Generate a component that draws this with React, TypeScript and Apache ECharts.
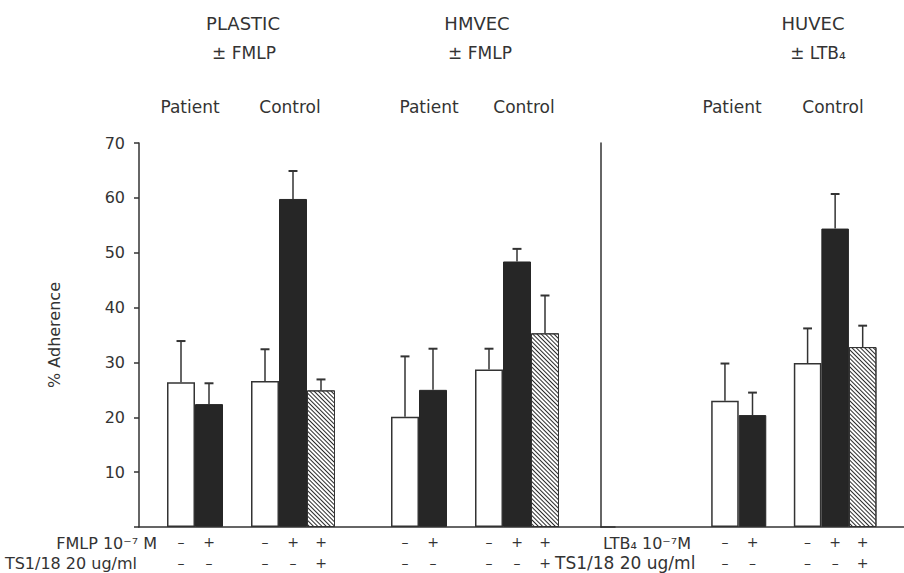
import React, { useEffect, useRef } from 'react';
import * as echarts from 'echarts';

const FONT = '"DejaVu Sans", "Liberation Sans", sans-serif';
const INK = '#333333';
const SOLID = '#262626';

// ---- PLASTIC + HMVEC panel: 17 category slots ('' = gap) ----
const leftLabels = ['', '–\n–', '+\n–', '', '–\n–', '+\n–', '+\n+', '', '', '–\n–', '+\n–', '', '–\n–', '+\n–', '+\n+', '', ''];
const leftOpen = [null, 26.4, null, null, 26.6, null, null, null, null, 20.1, null, null, 28.7, null, null, null, null];
const leftSolid = [null, null, 22.4, null, null, 59.8, null, null, null, null, 25.0, null, null, 48.4, null, null, null];
const leftHatched = [null, null, null, null, null, null, 24.9, null, null, null, null, null, null, null, 35.3, null, null];
const leftSem = [null, 7.5, 3.8, null, 5.8, 5.1, 2.0, null, null, 11.0, 7.5, null, 3.8, 2.3, 6.9, null, null];

// ---- HUVEC panel: 11 category slots ----
const rightLabels = ['', '', '', '', '–\n–', '+\n–', '', '–\n–', '+\n–', '+\n+', ''];
const rightOpen = [null, null, null, null, 23.0, null, null, 29.9, null, null, null];
const rightSolid = [null, null, null, null, null, 20.4, null, null, 54.4, null, null];
const rightHatched = [null, null, null, null, null, null, null, null, null, 32.8, null];
const rightSem = [null, null, null, null, 6.8, 4.1, null, 6.3, 6.3, 3.9, null];

// ---- axis / texts ----
const yMin = 0;
const yMax = 70;
const yInterval = 10;
const yName = '% Adherence';
const panelTitles = ['PLASTIC', 'HMVEC', 'HUVEC'];
const panelStimuli = ['± FMLP', '± FMLP', '± LTB₄'];
const groupNames = ['Patient', 'Control'];
const rowNamesLeft = ['FMLP 10⁻⁷ M', 'TS1/18 20 ug/ml'];
const rowNamesRight = ['LTB₄ 10⁻⁷M', 'TS1/18 20 ug/ml'];

function errorData(open: (number | null)[], solid: (number | null)[], hatched: (number | null)[], sem: (number | null)[]) {
  const out: number[][] = [];
  for (let i = 0; i < sem.length; i++) {
    const m = open[i] ?? solid[i] ?? hatched[i];
    if (m != null && sem[i] != null) out.push([i, m, sem[i] as number]);
  }
  return out;
}

const renderError = (params: any, api: any) => {
  const i = api.value(0);
  const m = api.value(1);
  const s = api.value(2);
  const base = api.coord([i, m]);
  const top = api.coord([i, m + s]);
  const half = api.size([1, 0])[0] * 0.16;
  return {
    type: 'group',
    children: [
      { type: 'line', shape: { x1: base[0], y1: base[1], x2: top[0], y2: top[1] }, style: { stroke: INK, lineWidth: 1.5 } },
      { type: 'line', shape: { x1: top[0] - half, y1: top[1], x2: top[0] + half, y2: top[1] }, style: { stroke: INK, lineWidth: 2 } },
    ],
  };
};

const hatchDecal = {
  symbol: 'rect',
  symbolSize: 1,
  dashArrayX: [1, 0],
  dashArrayY: [1, 2],
  rotation: Math.PI / 4,
  color: '#2a2a2a',
  backgroundColor: '#ffffff',
};

function barSeries(axis: number, open: any[], solid: any[], hatched: any[]) {
  const common = { type: 'bar', xAxisIndex: axis, yAxisIndex: axis, barWidth: '100%', barGap: '-100%', barCategoryGap: 0 };
  return [
    { ...common, data: open, itemStyle: { color: '#ffffff', borderColor: INK, borderWidth: 1.5 } },
    { ...common, data: solid, itemStyle: { color: SOLID, borderColor: SOLID, borderWidth: 1 } },
    { ...common, data: hatched, itemStyle: { color: '#ffffff', borderColor: INK, borderWidth: 1, decal: hatchDecal } },
  ];
}

function txt(text: string, x: number, y: number, size: number, align = 'center') {
  return {
    type: 'text',
    x,
    y,
    style: { text, fontSize: size, fontFamily: FONT, fill: INK, align, verticalAlign: 'middle' },
  };
}

export default function App() {
  const ref = useRef<HTMLDivElement>(null);
  useEffect(() => {
    document.body.style.margin = '0';
    const chart = echarts.init(ref.current as HTMLDivElement, undefined, { renderer: 'svg' });
    const axisLineStyle = { color: INK, width: 1.5 };
    const labelStyle = { color: INK, fontFamily: FONT, fontSize: 14, lineHeight: 21, interval: 0, margin: 4 };
    const option: any = {
      animation: false,
      backgroundColor: '#ffffff',
      grid: [
        { left: 139, top: 143, width: 476, height: 386 },
        { left: 601, top: 143, width: 308, height: 386 },
      ],
      xAxis: [
        { gridIndex: 0, type: 'category', data: leftLabels, axisLine: { show: true, lineStyle: axisLineStyle }, axisTick: { show: false }, axisLabel: labelStyle, z: 5 },
        { gridIndex: 1, type: 'category', data: rightLabels, axisLine: { show: true, lineStyle: axisLineStyle }, axisTick: { show: false }, axisLabel: labelStyle, z: 5 },
      ],
      yAxis: [
        {
          gridIndex: 0, type: 'value', min: yMin, max: yMax, interval: yInterval,
          name: yName, nameLocation: 'middle', nameGap: 77, nameRotate: 90,
          nameTextStyle: { color: INK, fontFamily: FONT, fontSize: 16 },
          axisLine: { show: true, lineStyle: axisLineStyle },
          axisTick: { show: true, length: 5, lineStyle: axisLineStyle },
          axisLabel: { color: INK, fontFamily: FONT, fontSize: 16, margin: 14, formatter: (v: number) => (v === 0 ? '' : String(v)) },
          splitLine: { show: false },
        },
        {
          gridIndex: 1, type: 'value', min: yMin, max: yMax, interval: yInterval,
          axisLine: { show: true, lineStyle: axisLineStyle },
          axisTick: { show: false }, axisLabel: { show: false }, splitLine: { show: false },
        },
      ],
      series: [
        ...barSeries(0, leftOpen, leftSolid, leftHatched),
        ...barSeries(1, rightOpen, rightSolid, rightHatched),
        { type: 'custom', xAxisIndex: 0, yAxisIndex: 0, data: errorData(leftOpen, leftSolid, leftHatched, leftSem), renderItem: renderError, encode: { x: 0, y: 1 }, z: 3 },
        { type: 'custom', xAxisIndex: 1, yAxisIndex: 1, data: errorData(rightOpen, rightSolid, rightHatched, rightSem), renderItem: renderError, encode: { x: 0, y: 1 }, z: 3 },
      ],
      graphic: [
        txt(panelTitles[0], 243, 23, 18),
        txt(panelStimuli[0], 244, 53, 17),
        txt(panelTitles[1], 477, 23, 18),
        txt(panelStimuli[1], 480, 53, 17),
        txt(panelTitles[2], 813, 23, 18),
        txt(panelStimuli[2], 818, 53, 17),
        txt(groupNames[0], 190, 107, 17),
        txt(groupNames[1], 290, 107, 17),
        txt(groupNames[0], 429, 107, 17),
        txt(groupNames[1], 524, 107, 17),
        txt(groupNames[0], 732, 107, 17),
        txt(groupNames[1], 833, 107, 17),
        txt(rowNamesLeft[0], 157, 543, 16, 'right'),
        txt(rowNamesLeft[1], 137, 563, 16, 'right'),
        txt(rowNamesRight[0], 603, 543, 16, 'left'),
        txt(rowNamesRight[1], 555, 563, 17, 'left'),
      ],
    };
    chart.setOption(option);
    return () => chart.dispose();
  }, []);
  return <div ref={ref} style={{ width: 904, height: 573 }} />;
}
